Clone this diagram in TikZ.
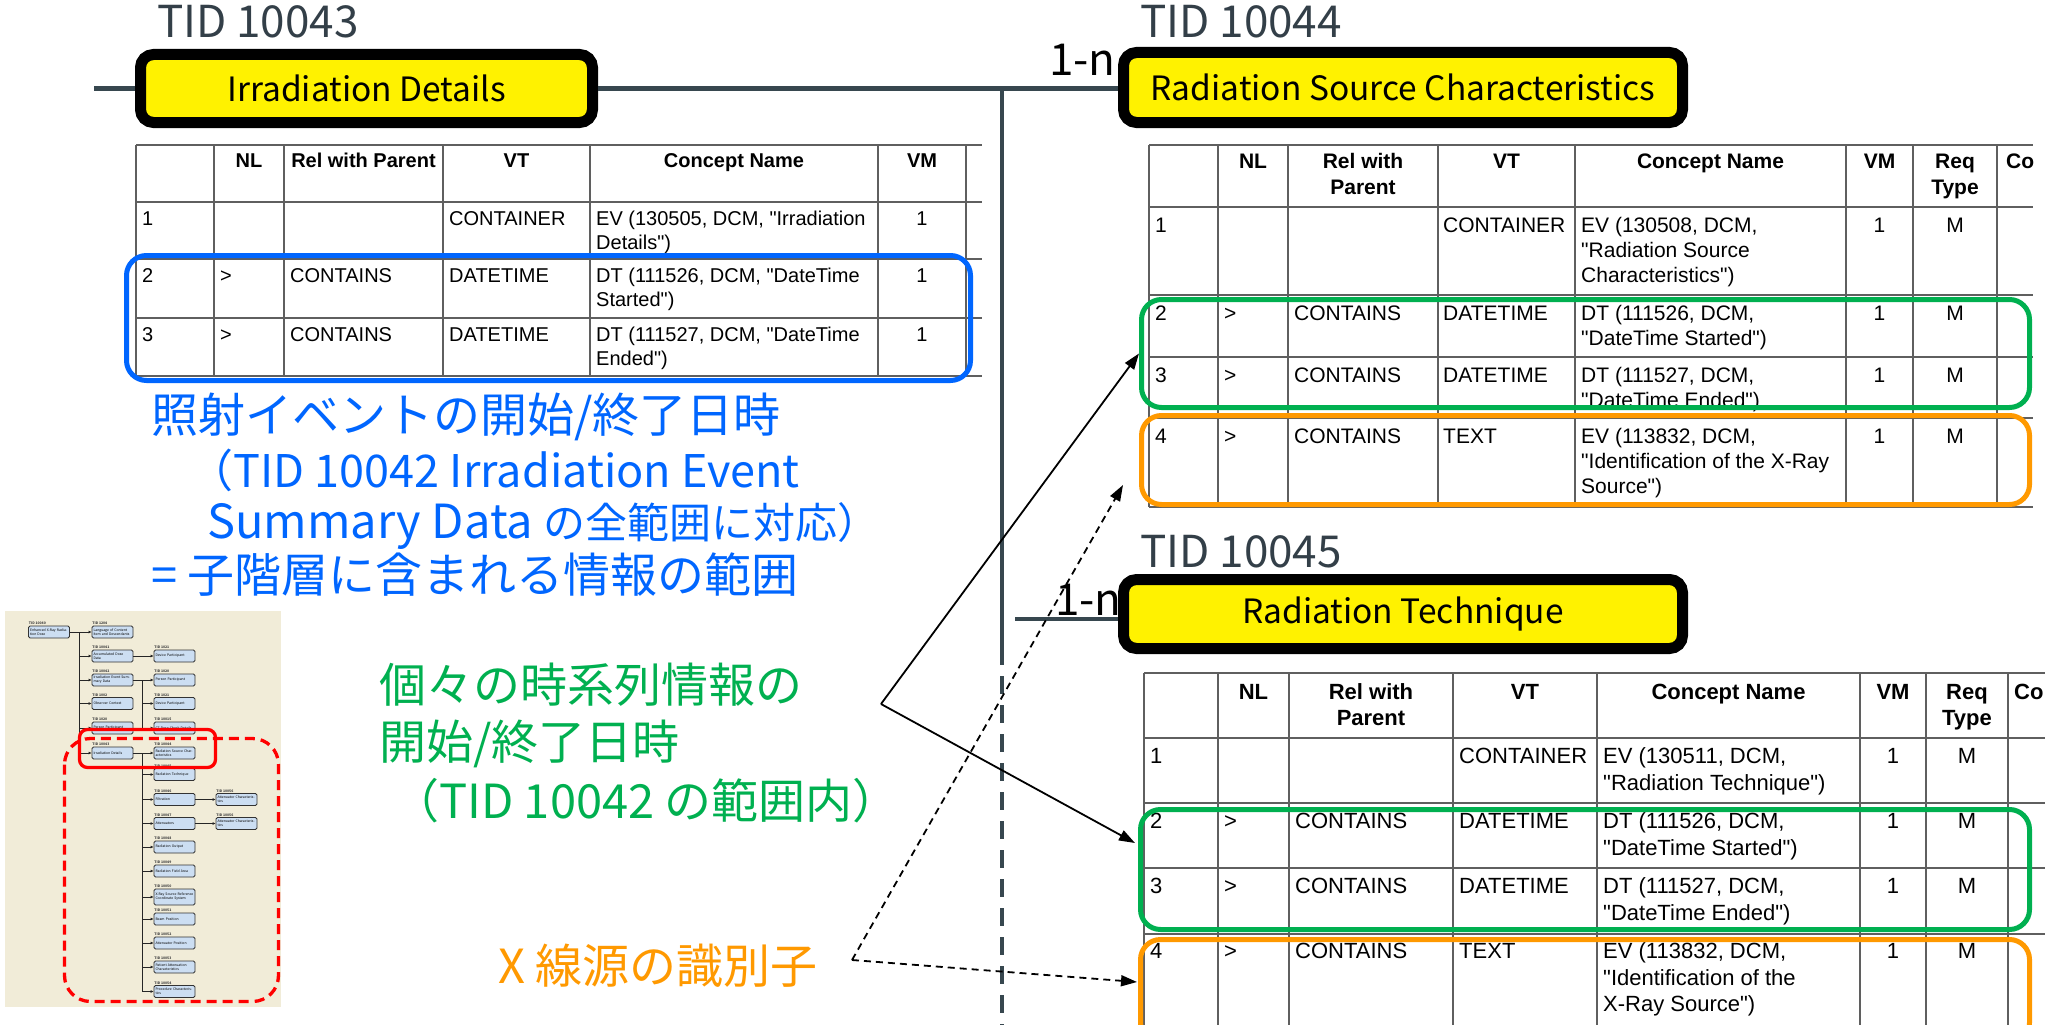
\documentclass[tikz,border=0pt]{standalone}
\usepackage{fontspec}
\setmainfont{Noto Sans CJK JP}
\newfontfamily\tabfont{Liberation Sans}
\usetikzlibrary{arrows.meta}

\definecolor{hlblue}{RGB}{0,102,255}
\definecolor{hlgreen}{RGB}{0,176,80}
\definecolor{hlorange}{RGB}{255,153,0}
\definecolor{tidgray}{RGB}{51,63,72}
\definecolor{linkgray}{RGB}{55,71,79}
\definecolor{gridgray}{RGB}{95,95,95}
\definecolor{thumbbg}{RGB}{241,236,216}
\definecolor{thumbblue}{RGB}{204,222,242}

% one table cell: style, name, x, top y, text
\newcommand{\tcell}[5]{\node[#1] (#2) at (#3,#4) {\strut #5};}
% one box of the overview tree: name, x, y, TID number, title
\newcommand{\tbox}[5]{\node[tnode] (#1) at (#2,#3) {#5};
  \node[ttid] (#1-tid) at (#1.north west) {TID #4};}

\begin{document}
\begin{tikzpicture}[x=1pt,y=-1pt,
    tidbox/.style={draw=black, fill=yellow, line width=11pt, rounded corners=13pt,
      minimum width=559pt, minimum height=70pt, inner sep=0pt,
      font=\fontsize{33.5}{38}\selectfont},
    tidlabel/.style={anchor=base west, inner sep=0pt, text=tidgray,
      font=\fontsize{44}{48}\selectfont},
    card/.style={anchor=base west, inner sep=0pt, font=\fontsize{44}{48}\selectfont},
    link/.style={draw=linkgray, line width=4.5pt},
    grid/.style={draw=gridgray, line width=2pt},
    hl/.style={line width=5pt, rounded corners=20pt, inner sep=0pt},
    pointer/.style={line width=1.8pt, -{Triangle[length=16pt,width=11pt]}},
    guess/.style={pointer, dash pattern=on 7pt off 5pt},
    note/.style={anchor=base west, inner sep=0pt, font=\fontsize{47}{54}\selectfont},
    % table cells
    lA/.style={anchor=north west, inner sep=0pt, align=left, font=\tabfont\fontsize{20}{24}\selectfont},
    cA/.style={lA, anchor=north, align=center},
    hA/.style={cA, font=\tabfont\bfseries\fontsize{20}{24}\selectfont},
    lB/.style={anchor=north west, inner sep=0pt, align=left, font=\tabfont\fontsize{21}{25}\selectfont},
    cB/.style={lB, anchor=north, align=center},
    hB/.style={cB, font=\tabfont\bfseries\fontsize{21}{26}\selectfont},
    hBl/.style={hB, anchor=north west},
    lC/.style={anchor=north west, inner sep=0pt, align=left, font=\tabfont\fontsize{22}{26.5}\selectfont},
    cC/.style={lC, anchor=north, align=center},
    hC/.style={cC, font=\tabfont\bfseries\fontsize{22}{26.5}\selectfont},
    hCl/.style={hC, anchor=north west},
    % overview thumbnail
    tnode/.style={draw=black!80, fill=thumbblue, rounded corners=1.5pt, line width=0.8pt,
      minimum width=41pt, minimum height=12pt, inner sep=0.8pt, text width=38pt,
      align=left, font=\fontsize{3.4}{4}\selectfont},
    ttid/.style={anchor=south west, inner sep=0.6pt, text=black!75,
      font=\bfseries\fontsize{3.4}{4}\selectfont},
    tline/.style={draw=black!85, line width=0.8pt},
    tarrow/.style={tline, -{Triangle[length=3pt,width=2.4pt]}},
    redsolid/.style={draw=red, line width=3.3pt, rounded corners=8pt},
    reddash/.style={draw=red, line width=3.3pt, rounded corners=26pt, dash pattern=on 10pt off 6pt}]

  \fill[white] (0,0) rectangle (2059,1025);
  \useasboundingbox (0,0) rectangle (2059,1025);

  % templates
  \node[tidlabel] (tid43) at (157,38) {TID 10043};
  \node[tidbox, minimum width=452pt, minimum height=68pt] (irr) at (366.5,88.5) {Irradiation Details};
  \node[tidlabel] (tid44) at (1140,38) {TID 10044};
  \node[tidbox] (rsc) at (1403,87.5) {Radiation Source Characteristics};
  \node[card] (rsc-card) at (1049,75) {1-n};
  \node[tidlabel] (tid45) at (1140,567) {TID 10045};
  \node[tidbox, minimum height=69pt] (rt) at (1403,614) {Radiation Technique};
  \node[card] (rt-card) at (1055,615) {1-n};

  \coordinate (stub) at (94,88.5);
  \coordinate (vsplit) at (1002,647);
  \coordinate (vend) at (1002,1030);
  \coordinate (rtstub) at (1015,619);
  \draw[link] (stub) -- (irr.west);
  \draw[link] (irr.east) -- (irr.east -| rsc.west);
  \draw[link] (irr.east -| vsplit) -- (vsplit);
  \draw[link, dash pattern=on 18pt off 11pt] (vsplit) -- (vend);
  \draw[link] (rtstub) -- (rtstub -| rt.west);

  % table of TID 10043
  \foreach \y in {145,202,259,318,376} \draw[grid] (136,\y) -- (982,\y);
  \foreach \x in {136,214,284,443,590,878,966} \draw[grid] (\x,145) -- (\x,376);
  \tcell{hA}{a-nl}{249}{150}{NL}
  \tcell{hA}{a-rel}{363.5}{150}{Rel with Parent}
  \tcell{hA}{a-vt}{516.5}{150}{VT}
  \tcell{hA}{a-cn}{734}{150}{Concept Name}
  \tcell{hA}{a-vm}{922}{150}{VM}
  \tcell{lA}{a-1}{142}{208}{1}
  \tcell{lA}{a-1vt}{449}{208}{CONTAINER}
  \tcell{lA}{a-1cn}{596}{208}{EV (130505, DCM, "Irradiation\\Details")}
  \tcell{cA}{a-1vm}{922}{208}{1}
  \tcell{lA}{a-2}{142}{265}{2}
  \tcell{lA}{a-2nl}{220}{265}{>}
  \tcell{lA}{a-2rel}{290}{265}{CONTAINS}
  \tcell{lA}{a-2vt}{449}{265}{DATETIME}
  \tcell{lA}{a-2cn}{596}{265}{DT (111526, DCM, "DateTime\\Started")}
  \tcell{cA}{a-2vm}{922}{265}{1}
  \tcell{lA}{a-3}{142}{324}{3}
  \tcell{lA}{a-3nl}{220}{324}{>}
  \tcell{lA}{a-3rel}{290}{324}{CONTAINS}
  \tcell{lA}{a-3vt}{449}{324}{DATETIME}
  \tcell{lA}{a-3cn}{596}{324}{DT (111527, DCM, "DateTime\\Ended")}
  \tcell{cA}{a-3vm}{922}{324}{1}

  % table of TID 10044
  \foreach \y in {145,207,295,357,418,507} \draw[grid] (1149,\y) -- (2033,\y);
  \foreach \x in {1149,1218,1288,1438,1575,1846,1913,1997} \draw[grid] (\x,145) -- (\x,507);
  \tcell{hB}{b-nl}{1253}{150.5}{NL}
  \tcell{hB}{b-rel}{1363}{150.5}{Rel with\\Parent}
  \tcell{hB}{b-vt}{1506.5}{150.5}{VT}
  \tcell{hB}{b-cn}{1710.5}{150.5}{Concept Name}
  \tcell{hB}{b-vm}{1879.5}{150.5}{VM}
  \tcell{hB}{b-req}{1955}{150.5}{Req\\Type}
  \tcell{hBl}{b-co}{2006}{150.5}{Co}
  \tcell{lB}{b-1}{1155}{214.5}{1}
  \tcell{lB}{b-1vt}{1443}{214.5}{CONTAINER}
  \tcell{lB}{b-1cn}{1581}{214.5}{EV (130508, DCM,\\"Radiation Source\\Characteristics")}
  \tcell{cB}{b-1vm}{1879.5}{214.5}{1}
  \tcell{cB}{b-1req}{1955}{214.5}{M}
  \tcell{lB}{b-2}{1155}{302.5}{2}
  \tcell{lB}{b-2nl}{1224}{302.5}{>}
  \tcell{lB}{b-2rel}{1294}{302.5}{CONTAINS}
  \tcell{lB}{b-2vt}{1443}{302.5}{DATETIME}
  \tcell{lB}{b-2cn}{1581}{302.5}{DT (111526, DCM,\\"DateTime Started")}
  \tcell{cB}{b-2vm}{1879.5}{302.5}{1}
  \tcell{cB}{b-2req}{1955}{302.5}{M}
  \tcell{lB}{b-3}{1155}{364.5}{3}
  \tcell{lB}{b-3nl}{1224}{364.5}{>}
  \tcell{lB}{b-3rel}{1294}{364.5}{CONTAINS}
  \tcell{lB}{b-3vt}{1443}{364.5}{DATETIME}
  \tcell{lB}{b-3cn}{1581}{364.5}{DT (111527, DCM,\\"DateTime Ended")}
  \tcell{cB}{b-3vm}{1879.5}{364.5}{1}
  \tcell{cB}{b-3req}{1955}{364.5}{M}
  \tcell{lB}{b-4}{1155}{425.5}{4}
  \tcell{lB}{b-4nl}{1224}{425.5}{>}
  \tcell{lB}{b-4rel}{1294}{425.5}{CONTAINS}
  \tcell{lB}{b-4vt}{1443}{425.5}{TEXT}
  \tcell{lB}{b-4cn}{1581}{425.5}{EV (113832, DCM,\\"Identification of the X-Ray\\Source")}
  \tcell{cB}{b-4vm}{1879.5}{425.5}{1}
  \tcell{cB}{b-4req}{1955}{425.5}{M}

  % table of TID 10045
  \foreach \y in {673,738,803,868,934} \draw[grid] (1144,\y) -- (2045,\y);
  \foreach \x in {1144,1218,1289,1453,1597,1860,1926,2008} \draw[grid] (\x,673) -- (\x,1040);
  \tcell{hC}{c-nl}{1253.5}{680.5}{NL}
  \tcell{hC}{c-rel}{1371}{680.5}{Rel with\\Parent}
  \tcell{hC}{c-vt}{1525}{680.5}{VT}
  \tcell{hC}{c-cn}{1728.5}{680.5}{Concept Name}
  \tcell{hC}{c-vm}{1893}{680.5}{VM}
  \tcell{hC}{c-req}{1967}{680.5}{Req\\Type}
  \tcell{hCl}{c-co}{2014}{680.5}{Co}
  \tcell{lC}{c-1}{1150}{745}{1}
  \tcell{lC}{c-1vt}{1459}{745}{CONTAINER}
  \tcell{lC}{c-1cn}{1603}{745}{EV (130511, DCM,\\"Radiation Technique")}
  \tcell{cC}{c-1vm}{1893}{745}{1}
  \tcell{cC}{c-1req}{1967}{745}{M}
  \tcell{lC}{c-2}{1150}{810}{2}
  \tcell{lC}{c-2nl}{1224}{810}{>}
  \tcell{lC}{c-2rel}{1295}{810}{CONTAINS}
  \tcell{lC}{c-2vt}{1459}{810}{DATETIME}
  \tcell{lC}{c-2cn}{1603}{810}{DT (111526, DCM,\\"DateTime Started")}
  \tcell{cC}{c-2vm}{1893}{810}{1}
  \tcell{cC}{c-2req}{1967}{810}{M}
  \tcell{lC}{c-3}{1150}{875}{3}
  \tcell{lC}{c-3nl}{1224}{875}{>}
  \tcell{lC}{c-3rel}{1295}{875}{CONTAINS}
  \tcell{lC}{c-3vt}{1459}{875}{DATETIME}
  \tcell{lC}{c-3cn}{1603}{875}{DT (111527, DCM,\\"DateTime Ended")}
  \tcell{cC}{c-3vm}{1893}{875}{1}
  \tcell{cC}{c-3req}{1967}{875}{M}
  \tcell{lC}{c-4}{1150}{940}{4}
  \tcell{lC}{c-4nl}{1224}{940}{>}
  \tcell{lC}{c-4rel}{1295}{940}{CONTAINS}
  \tcell{lC}{c-4vt}{1459}{940}{TEXT}
  \tcell{lC}{c-4cn}{1603}{940}{EV (113832, DCM,\\"Identification of the\\X-Ray Source")}
  \tcell{cC}{c-4vm}{1893}{940}{1}
  \tcell{cC}{c-4req}{1967}{940}{M}

  % highlighted rows
  \node[hl, draw=hlblue, minimum width=844pt, minimum height=125pt] (b43) at (548.5,318) {};
  \node[hl, draw=hlgreen, minimum width=888pt, minimum height=108pt] (g44) at (1585.5,353.5) {};
  \node[hl, draw=hlorange, minimum width=888pt, minimum height=89pt] (o44) at (1585.5,460) {};
  \node[hl, draw=hlgreen, minimum width=889pt, minimum height=120pt] (g45) at (1585,869.5) {};
  \node[hl, draw=hlorange, minimum width=889pt, minimum height=103pt] (o45) at (1585,991) {};

  % notes
  \node[note, text=hlblue] (scope1) at (151,432) {照射イベントの開始/終了日時};
  \node[note, text=hlblue, font=\fontsize{45}{54}\selectfont] (scope2) at (188.5,487) {（TID 10042 Irradiation Event};
  \node[note, text=hlblue] (scope3) at (207,538) {Summary Data {\fontsize{42}{54}\selectfont の全範囲に対応）}};
  \node[note, text=hlblue] (scope4) at (151,592) {= 子階層に含まれる情報の範囲};
  \node[note, text=hlgreen] (each1) at (379,702) {個々の時系列情報の};
  \node[note, text=hlgreen] (each2) at (379,759) {開始/終了日時};
  \node[note, text=hlgreen] (each3) at (392,818) {（TID 10042 の範囲内）};
  \node[note, text=hlorange] (srcid) at (498,983) {X 線源の識別子};

  \coordinate (gapex) at (881,704);
  \coordinate (g45tip) at (1135,843);
  \coordinate (oapex) at (852,960);
  \coordinate (o44tip) at (1123,485);
  \coordinate (o45tip) at (1137,982);
  \draw[pointer] (gapex) -- (g44.west);
  \draw[pointer] (gapex) -- (g45tip);
  \draw[guess] (oapex) -- (o44tip);
  \draw[guess] (oapex) -- (o45tip);

  % overview thumbnail
  \fill[thumbbg] (5,611) rectangle (281,1007);
  \tbox{t-root}{49}{632}{10040}{Enhanced X-Ray Radiation Dose}
  \tbox{t-1204}{112.5}{632}{1204}{Language of Content Item and Descendants}
  \tbox{t-10041}{112.5}{656}{10041}{Accumulated Dose Data}
  \tbox{t-10042}{112.5}{680}{10042}{Irradiation Event Summary Data}
  \tbox{t-1002}{112.5}{703.5}{1002}{Observer Context}
  \tbox{t-1020}{112.5}{728}{1020}{Person Participant}
  \tbox{t-10043}{112.5}{753}{10043}{Irradiation Details}
  \tbox{t-1021a}{174.5}{656}{1021}{Device Participant}
  \tbox{t-1020b}{174.5}{680}{1020}{Person Participant}
  \tbox{t-1021c}{174.5}{703.5}{1021}{Device Participant}
  \tbox{t-10015}{174.5}{728}{10015}{CT Dose Check Details}
  \tbox{t-10044}{174.5}{753}{10044}{Radiation Source Characteristics}
  \tbox{t-10045}{174.5}{774.5}{10045}{Radiation Technique}
  \tbox{t-10046}{174.5}{799.5}{10046}{Filtration}
  \tbox{t-10047}{174.5}{823.5}{10047}{Attenuators}
  \tbox{t-10048}{174.5}{847}{10048}{Radiation Output}
  \tbox{t-10049}{174.5}{871}{10049}{Radiation Field Area}
  \node[tnode, minimum height=16pt] (t-10050) at (174.5,897) {X-Ray Source Reference Coordinate System};
  \node[ttid] (t-10050-tid) at (t-10050.north west) {TID 10050};
  \tbox{t-10051}{174.5}{919}{10051}{Beam Position}
  \tbox{t-10052}{174.5}{943}{10052}{Attenuator Position}
  \tbox{t-10053}{174.5}{967}{10053}{Patient Attenuation Characteristics}
  \tbox{t-10054}{174.5}{991.5}{10054}{Procedure Characteristics}
  \tbox{t-10056a}{236.5}{799.5}{10056}{Attenuator Characteristics}
  \tbox{t-10056b}{236.5}{823.5}{10056}{Attenuator Characteristics}

  \coordinate (tr1) at (79,632);
  \coordinate (tr2) at (142,680);
  \coordinate (tr3) at (142,753);
  \draw[tarrow] (t-root.east) -- (t-1204.west);
  \draw[tline] (tr1) -- (tr1 |- t-10043.west);
  \foreach \n in {10041,10042,1002,1020,10043}
    \draw[tarrow] (tr1 |- t-\n.west) -- (t-\n.west);
  \draw[tarrow] (t-10041.east) -- (t-1021a.west);
  \draw[tline] (t-10042.east) -- (tr2) -- (tr2 |- t-10015.west);
  \foreach \n in {1020b,1021c,10015}
    \draw[tarrow] (tr2 |- t-\n.west) -- (t-\n.west);
  \draw[tarrow] (t-10043.east) -- (t-10044.west);
  \draw[tline] (tr3) -- (tr3 |- t-10054.west);
  \foreach \n in {10045,10046,10047,10048,10049,10050,10051,10052,10053,10054}
    \draw[tarrow] (tr3 |- t-\n.west) -- (t-\n.west);
  \draw[tarrow] (t-10046.east) -- (t-10056a.west);
  \draw[tarrow] (t-10047.east) -- (t-10056b.west);

  \draw[reddash] (64.5,738.5) rectangle (278.5,1001.5);
  \draw[redsolid] (79.5,729.5) rectangle (215.5,767.5);
\end{tikzpicture}
\end{document}
